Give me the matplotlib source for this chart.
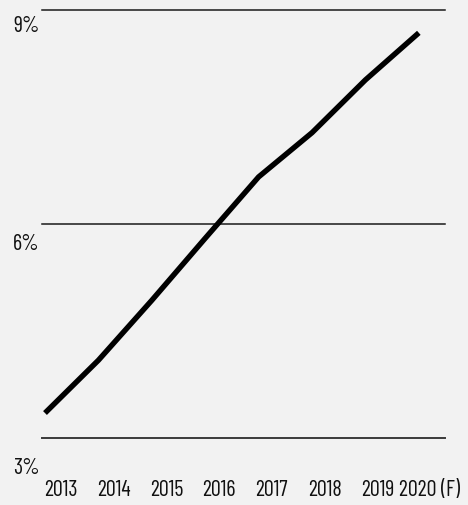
import matplotlib
matplotlib.use("Agg")
import matplotlib.pyplot as plt
from matplotlib import font_manager
import matplotlib.transforms as mtransforms

years = ["2013", "2014", "2015", "2016", "2017", "2018", "2019", "2020 (F)"]
share = [3.35, 4.09, 4.93, 5.80, 6.66, 7.28, 8.02, 8.68]
y_ticks = [3, 6, 9]
y_tick_labels = ["3%", "6%", "9%"]

names = {f.name for f in font_manager.fontManager.ttflist}
preferred = ["Barlow Condensed", "Roboto Condensed", "Fira Sans Condensed", "Archivo Narrow"]
family = [n for n in preferred if n in names][:1] + ["DejaVu Sans"]
plt.rcParams["font.family"] = family

bg = "#f2f2f2"
ink = "#111111"
fs = 16
W, H = 468, 505
fig = plt.figure(figsize=(W / 100, H / 100), dpi=100, facecolor=bg)
# plotting area in pixels: x 42..445, y 10..438
ax = fig.add_axes([42 / W, 1 - 438 / H, (445 - 42) / W, (438 - 10) / H], facecolor=bg)

xs = list(range(len(years)))
ax.plot(xs, share, color="black", lw=3.9, solid_capstyle="butt", solid_joinstyle="miter", zorder=3)

ax.set_ylim(3, 9)
ax.set_xlim(-0.056, 7.49)
for v in y_ticks:
    ax.axhline(v, color="#3a3a3a" if v == 3 else "#1a1a1a", lw=1.4 if v == 3 else 1.1, zorder=1, clip_on=False)

for s in ax.spines.values():
    s.set_visible(False)
ax.set_yticks([])
ax.set_xticks([])

# y labels sit below their gridlines on the left margin
label_drop = {3: 31, 6: 21, 9: 17}
for v, lab in zip(y_ticks, y_tick_labels):
    tr = mtransforms.offset_copy(ax.get_yaxis_transform(), fig=fig, x=-29 * 0.72, y=-label_drop[v] * 0.72, units="points")
    ax.text(0, v, lab, transform=tr, ha="left", va="center", fontsize=fs, color=ink)

# year labels along the bottom
for i, lab in enumerate(years):
    pos = 0.30 + i * 0.987
    tr = mtransforms.offset_copy(ax.get_xaxis_transform(), fig=fig, x=0, y=-53 * 0.72, units="points")
    ax.text(pos, 0, lab, transform=tr, ha="center", va="center", fontsize=fs, color=ink)

fig.savefig("out.png", dpi=100, facecolor=bg)
